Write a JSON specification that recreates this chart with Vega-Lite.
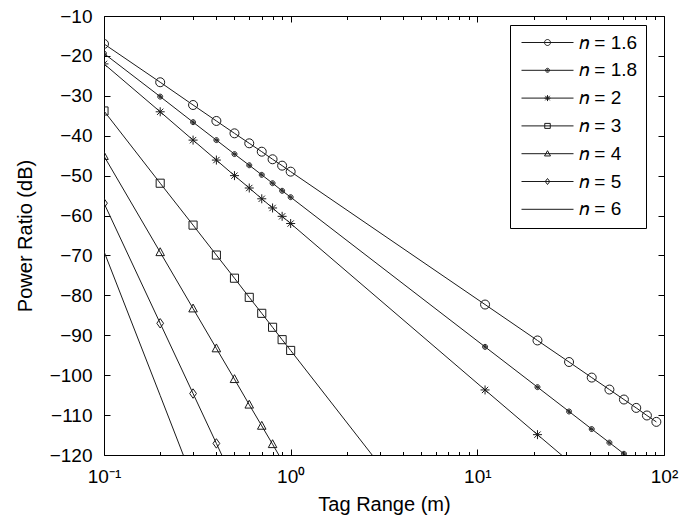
{
  "$schema": "https://vega.github.io/schema/vega-lite/v6.json",
  "width": 560,
  "height": 439,
  "autosize": {"type": "none"},
  "padding": {"left": 104, "top": 16, "right": 17, "bottom": 62},
  "background": "white",
  "config": {
    "view": {"stroke": "black", "strokeWidth": 1},
    "font": "Liberation Sans",
    "axis": {
      "grid": false, "domain": false, "tickColor": "black", "tickWidth": 1,
      "labelColor": "black", "titleColor": "black",
      "labelFont": "Liberation Sans", "titleFont": "Liberation Sans",
      "labelFontSize": 19, "titleFontSize": 20, "titleFontWeight": "normal",
      "tickSize": -6, "labelPadding": 18, "labelFlush": false
    }
  },
  "data": {"values": [
    {"n": "n = 1.6", "d": 0.1, "p": -17.0}, {"n": "n = 1.6", "d": 0.2, "p": -26.6}, {"n": "n = 1.6", "d": 0.3, "p": -32.3}, {"n": "n = 1.6", "d": 0.4, "p": -36.3}, {"n": "n = 1.6", "d": 0.5, "p": -39.4}, {"n": "n = 1.6", "d": 0.6, "p": -41.9}, {"n": "n = 1.6", "d": 0.7, "p": -44.0}, {"n": "n = 1.6", "d": 0.8, "p": -45.9}, {"n": "n = 1.6", "d": 0.9, "p": -47.5}, {"n": "n = 1.6", "d": 1, "p": -49.0},
    {"n": "n = 1.6", "d": 11, "p": -82.3}, {"n": "n = 1.6", "d": 21, "p": -91.3}, {"n": "n = 1.6", "d": 31, "p": -96.7}, {"n": "n = 1.6", "d": 41, "p": -100.6}, {"n": "n = 1.6", "d": 51, "p": -103.6}, {"n": "n = 1.6", "d": 61, "p": -106.1}, {"n": "n = 1.6", "d": 71, "p": -108.2}, {"n": "n = 1.6", "d": 81, "p": -110.1}, {"n": "n = 1.6", "d": 91, "p": -111.7},
    {"n": "n = 1.8", "d": 0.1, "p": -19.4}, {"n": "n = 1.8", "d": 0.2, "p": -30.2}, {"n": "n = 1.8", "d": 0.3, "p": -36.6}, {"n": "n = 1.8", "d": 0.4, "p": -41.1}, {"n": "n = 1.8", "d": 0.5, "p": -44.6}, {"n": "n = 1.8", "d": 0.6, "p": -47.4}, {"n": "n = 1.8", "d": 0.7, "p": -49.8}, {"n": "n = 1.8", "d": 0.8, "p": -51.9}, {"n": "n = 1.8", "d": 0.9, "p": -53.8}, {"n": "n = 1.8", "d": 1, "p": -55.4},
    {"n": "n = 1.8", "d": 11, "p": -92.9}, {"n": "n = 1.8", "d": 21, "p": -103.0}, {"n": "n = 1.8", "d": 31, "p": -109.1}, {"n": "n = 1.8", "d": 41, "p": -113.5}, {"n": "n = 1.8", "d": 51, "p": -116.9}, {"n": "n = 1.8", "d": 61, "p": -119.7}, {"n": "n = 1.8", "d": 71, "p": -122.0},
    {"n": "n = 2", "d": 0.1, "p": -22.0}, {"n": "n = 2", "d": 0.2, "p": -34.0}, {"n": "n = 2", "d": 0.3, "p": -41.1}, {"n": "n = 2", "d": 0.4, "p": -46.1}, {"n": "n = 2", "d": 0.5, "p": -50.0}, {"n": "n = 2", "d": 0.6, "p": -53.1}, {"n": "n = 2", "d": 0.7, "p": -55.8}, {"n": "n = 2", "d": 0.8, "p": -58.1}, {"n": "n = 2", "d": 0.9, "p": -60.2}, {"n": "n = 2", "d": 1, "p": -62.0},
    {"n": "n = 2", "d": 11, "p": -103.7}, {"n": "n = 2", "d": 21, "p": -114.9}, {"n": "n = 2", "d": 31, "p": -121.6},
    {"n": "n = 3", "d": 0.1, "p": -33.8}, {"n": "n = 3", "d": 0.2, "p": -51.9}, {"n": "n = 3", "d": 0.3, "p": -62.4}, {"n": "n = 3", "d": 0.4, "p": -69.9}, {"n": "n = 3", "d": 0.5, "p": -75.7}, {"n": "n = 3", "d": 0.6, "p": -80.5}, {"n": "n = 3", "d": 0.7, "p": -84.5}, {"n": "n = 3", "d": 0.8, "p": -88.0}, {"n": "n = 3", "d": 0.9, "p": -91.1}, {"n": "n = 3", "d": 1, "p": -93.8}, {"n": "n = 3", "d": 11, "p": -156.3},
    {"n": "n = 4", "d": 0.1, "p": -45.1}, {"n": "n = 4", "d": 0.2, "p": -69.2}, {"n": "n = 4", "d": 0.3, "p": -83.3}, {"n": "n = 4", "d": 0.4, "p": -93.3}, {"n": "n = 4", "d": 0.5, "p": -101.0}, {"n": "n = 4", "d": 0.6, "p": -107.4}, {"n": "n = 4", "d": 0.7, "p": -112.7}, {"n": "n = 4", "d": 0.8, "p": -117.3}, {"n": "n = 4", "d": 0.9, "p": -121.4}, {"n": "n = 4", "d": 1, "p": -125.1},
    {"n": "n = 5", "d": 0.1, "p": -56.9}, {"n": "n = 5", "d": 0.2, "p": -87.0}, {"n": "n = 5", "d": 0.3, "p": -104.6}, {"n": "n = 5", "d": 0.4, "p": -117.1}, {"n": "n = 5", "d": 0.5, "p": -126.8},
    {"n": "n = 6", "d": 0.1, "p": -69.0}, {"n": "n = 6", "d": 0.2, "p": -105.1}, {"n": "n = 6", "d": 0.3, "p": -126.3}
  ]},
  "layer": [
    {
      "mark": {"type": "line", "color": "#1a1a1a", "strokeWidth": 1, "clip": true},
      "encoding": {
        "x": {"field": "d", "type": "quantitative", "scale": {"type": "log", "domain": [0.1, 100], "nice": false},
          "axis": {"values": [0.1, 1, 10, 100], "title": "Tag Range (m)", "titlePadding": 8,
            "labelExpr": "datum.value < 0.5 ? '10⁻¹' : datum.value < 5 ? '10⁰' : datum.value < 50 ? '10¹' : '10²'"}},
        "y": {"field": "p", "type": "quantitative", "scale": {"domain": [-120, -10], "nice": false, "zero": false},
          "axis": {"values": [-120, -110, -100, -90, -80, -70, -60, -50, -40, -30, -20, -10], "title": "Power Ratio (dB)", "titlePadding": 14}},
        "detail": {"field": "n", "type": "nominal"}
      }
    },
    {
      "transform": [{"filter": "datum.n !== 'n = 6'"}],
      "mark": {"type": "point", "filled": false, "clip": true, "size": 81, "strokeWidth": 1, "color": "#1a1a1a", "opacity": 1},
      "encoding": {
        "x": {"field": "d", "type": "quantitative", "axis": {"orient": "top", "values": [0.1, 1, 10, 100], "labels": false, "title": null}},
        "y": {"field": "p", "type": "quantitative", "axis": {"orient": "right", "values": [-120, -110, -100, -90, -80, -70, -60, -50, -40, -30, -20, -10], "labels": false, "title": null}},
        "shape": {"field": "n", "type": "nominal", "legend": null,
          "scale": {
            "domain": ["n = 1.6", "n = 1.8", "n = 2", "n = 3", "n = 4", "n = 5", "n = 6"],
            "range": [
              "M1,0A1,1 0 1,1 -1,0A1,1 0 1,1 1,0Z",
              "M0.55,0A0.55,0.55 0 1,1 -0.55,0A0.55,0.55 0 1,1 0.55,0ZM0.3,0A0.3,0.3 0 1,1 -0.3,0A0.3,0.3 0 1,1 0.3,0ZM0.1,0A0.1,0.1 0 1,1 -0.1,0A0.1,0.1 0 1,1 0.1,0Z",
              "M0,-1L0,1M-1,0L1,0M-0.7,-0.7L0.7,0.7M-0.7,0.7L0.7,-0.7",
              "M-0.9,-0.9L0.9,-0.9L0.9,0.9L-0.9,0.9Z",
              "M0,-1L0.95,0.75L-0.95,0.75Z",
              "M0,-1.05L0.75,0L0,1.05L-0.75,0Z",
              "M0,0L0,0"
            ]
          }
        }
      }
    },
    {
      "transform": [{"filter": "datum.p < -120"}],
      "mark": {"type": "point", "filled": false, "clip": true, "size": 100, "strokeWidth": 1, "color": "#1a1a1a", "opacity": 1},
      "encoding": {
        "x": {"field": "d", "type": "quantitative", "axis": null},
        "y": {"field": "p", "type": "quantitative", "axis": null},
        "shape": {"field": "n", "type": "nominal",
          "scale": {
            "domain": ["n = 1.6", "n = 1.8", "n = 2", "n = 3", "n = 4", "n = 5", "n = 6"],
            "range": [
              "M-5.2,0L5.2,0M0.6,0A0.6,0.6 0 1,1 -0.6,0A0.6,0.6 0 1,1 0.6,0Z",
              "M-5.2,0L5.2,0M0.4,0A0.4,0.4 0 1,1 -0.4,0A0.4,0.4 0 1,1 0.4,0ZM0.15,0A0.15,0.15 0 1,1 -0.15,0A0.15,0.15 0 1,1 0.15,0Z",
              "M-5.2,0L5.2,0M0,-0.6L0,0.6M-0.6,0L0.6,0M-0.45,-0.45L0.45,0.45M-0.45,0.45L0.45,-0.45",
              "M-5.2,0L5.2,0M-0.55,-0.5L0.55,-0.5L0.55,0.5L-0.55,0.5Z",
              "M-5.2,0L5.2,0M0,-0.6L0.6,0.45L-0.6,0.45Z",
              "M-5.2,0L5.2,0M0,-0.6L0.45,0L0,0.6L-0.45,0Z",
              "M-5.2,0L5.2,0"
            ]
          },
          "legend": {
            "title": null, "orient": "none", "legendX": 406, "legendY": 9,
            "labelFont": "Liberation Sans", "labelFontSize": 19, "labelColor": "black",
            "labelExpr": "replace(datum.label, 'n', '𝑛')",
            "symbolSize": 100, "symbolStrokeWidth": 1, "symbolStrokeColor": "#1a1a1a", "symbolFillColor": "transparent", "symbolOpacity": 1,
            "symbolOffset": 20, "labelOffset": 22, "padding": 8, "rowPadding": 7.8,
            "strokeColor": "black", "fillColor": "white", "cornerRadius": 0
          }
        }
      }
    },
    {
      "mark": {"type": "point", "opacity": 0, "clip": true},
      "encoding": {
        "x": {"field": "d", "type": "quantitative", "axis": {"orient": "bottom", "values": [0.2, 0.3, 0.4, 0.5, 0.6, 0.7, 0.8, 0.9, 2, 3, 4, 5, 6, 7, 8, 9, 20, 30, 40, 50, 60, 70, 80, 90], "labels": false, "title": null, "tickSize": -3.5}},
        "y": {"field": "p", "type": "quantitative", "axis": null}
      }
    },
    {
      "mark": {"type": "point", "opacity": 0, "clip": true},
      "encoding": {
        "x": {"field": "d", "type": "quantitative", "axis": {"orient": "top", "values": [0.2, 0.3, 0.4, 0.5, 0.6, 0.7, 0.8, 0.9, 2, 3, 4, 5, 6, 7, 8, 9, 20, 30, 40, 50, 60, 70, 80, 90], "labels": false, "title": null, "tickSize": -3.5}},
        "y": {"field": "p", "type": "quantitative", "axis": null}
      }
    }
  ],
  "resolve": {"axis": {"x": "independent", "y": "independent"}, "scale": {"shape": "independent"}, "legend": {"shape": "independent"}}
}
